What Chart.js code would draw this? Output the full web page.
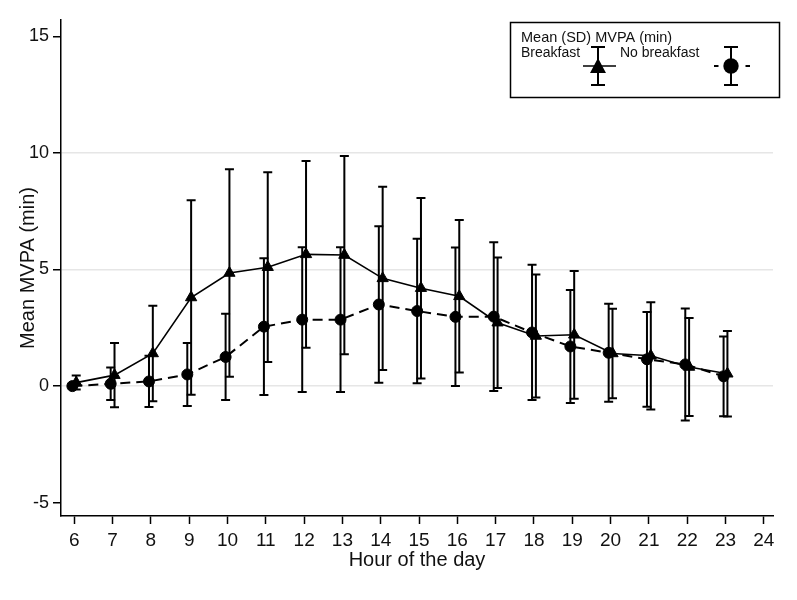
<!DOCTYPE html>
<html>
<head>
<meta charset="utf-8">
<script src="https://cdn.jsdelivr.net/npm/chart.js@4.4.1/dist/chart.umd.min.js"></script>
<style>
    html, body { margin: 0; padding: 0; background: #fff; }
    #wrap { width: 797px; height: 600px; }
</style>
</head>
<body>
<div id="wrap"><canvas id="mvpaChart" width="797" height="600"></canvas></div>
<script>
// Data
const hours = [6, 7, 8, 9, 10, 11, 12, 13, 14, 15, 16, 17, 18, 19, 20, 21, 22, 23];
const breakfastMean = [0.15, 0.47, 1.4, 3.8, 4.85, 5.1, 5.65, 5.62, 4.62, 4.2, 3.85, 2.72, 2.15, 2.2, 1.4, 1.3, 0.82, 0.53];
const breakfastSD = [0.3, 1.38, 2.05, 4.17, 4.45, 4.07, 4.0, 4.25, 3.93, 3.87, 3.27, 2.8, 2.64, 2.74, 1.92, 2.3, 2.1, 1.83];
const noBreakfastMean = [0, 0.1, 0.2, 0.5, 1.25, 2.55, 2.85, 2.85, 3.5, 3.22, 2.97, 2.98, 2.3, 1.7, 1.43, 1.15, 0.93, 0.42];
const noBreakfastSD = [0.1, 0.7, 1.1, 1.35, 1.85, 2.93, 3.1, 3.1, 3.36, 3.1, 2.97, 3.19, 2.9, 2.42, 2.1, 2.03, 2.4, 1.71];
const xTicks = [6, 7, 8, 9, 10, 11, 12, 13, 14, 15, 16, 17, 18, 19, 20, 21, 22, 23, 24];
const yTicks = [-5, 0, 5, 10, 15];
const gridValues = [0, 5, 10];

// small horizontal shift so the two series don't overlap
const shiftB = 0.05, shiftN = -0.05;

function toPoints(xs, ys, shift) {
    return xs.map((x, i) => ({ x: x + shift, y: ys[i], sd: null }));
}

const FONT = "'Liberation Sans', Arial, Helvetica, sans-serif";
Chart.defaults.font.family = FONT;
Chart.defaults.color = '#111';

// error bars, drawn through the chart scales
const errorBars = {
    id: 'errorBars',
    beforeDatasetsDraw(chart) {
        const ctx = chart.ctx;
        const xs = chart.scales.x, ys = chart.scales.y;
        const groups = [
            { mean: breakfastMean, sd: breakfastSD, shift: shiftB },
            { mean: noBreakfastMean, sd: noBreakfastSD, shift: shiftN }
        ];
        ctx.save();
        ctx.strokeStyle = '#000';
        ctx.lineWidth = 2;
        groups.forEach(g => {
            hours.forEach((h, i) => {
                const px = xs.getPixelForValue(h + g.shift);
                const top = ys.getPixelForValue(g.mean[i] + g.sd[i]);
                const bot = ys.getPixelForValue(g.mean[i] - g.sd[i]);
                ctx.beginPath();
                ctx.moveTo(px, top); ctx.lineTo(px, bot);
                ctx.moveTo(px - 4.5, top); ctx.lineTo(px + 4.5, top);
                ctx.moveTo(px - 4.5, bot); ctx.lineTo(px + 4.5, bot);
                ctx.stroke();
            });
        });
        ctx.restore();
    }
};

// legend box top right
const legendBox = {
    id: 'legendBox',
    afterDraw(chart) {
        const ctx = chart.ctx;
        ctx.save();
        ctx.fillStyle = '#fff';
        ctx.fillRect(510, 22, 269, 76);
        ctx.strokeStyle = '#000';
        ctx.lineWidth = 1.5;
        ctx.strokeRect(510.5, 22.5, 269, 75);

        ctx.fillStyle = '#111';
        ctx.textBaseline = 'alphabetic';
        ctx.font = "14.5px " + FONT;
        ctx.fillText('Mean (SD) MVPA (min)', 521, 42);
        ctx.font = "14px " + FONT;
        ctx.fillText('Breakfast', 521, 57);
        ctx.fillText('No breakfast', 620, 57);

        ctx.strokeStyle = '#000';
        ctx.lineWidth = 2;
        // breakfast symbol
        let cx = 598, cy = 66;
        ctx.beginPath();
        ctx.moveTo(cx, 47); ctx.lineTo(cx, 85);
        ctx.moveTo(cx - 7, 47); ctx.lineTo(cx + 7, 47);
        ctx.moveTo(cx - 7, 85); ctx.lineTo(cx + 7, 85);
        ctx.stroke();
        ctx.lineWidth = 1.5;
        ctx.beginPath();
        ctx.moveTo(583, cy); ctx.lineTo(616, cy);
        ctx.stroke();
        ctx.fillStyle = '#000';
        ctx.beginPath();
        ctx.moveTo(cx, cy - 8); ctx.lineTo(cx + 8, cy + 7); ctx.lineTo(cx - 8, cy + 7);
        ctx.closePath();
        ctx.fill();

        // no breakfast symbol
        cx = 731;
        ctx.lineWidth = 2;
        ctx.beginPath();
        ctx.moveTo(cx, 47); ctx.lineTo(cx, 85);
        ctx.moveTo(cx - 7, 47); ctx.lineTo(cx + 7, 47);
        ctx.moveTo(cx - 7, 85); ctx.lineTo(cx + 7, 85);
        ctx.moveTo(714, cy); ctx.lineTo(718.5, cy);
        ctx.moveTo(745.5, cy); ctx.lineTo(750, cy);
        ctx.stroke();
        ctx.beginPath();
        ctx.arc(cx, cy, 7.7, 0, Math.PI * 2);
        ctx.fill();
        ctx.restore();
    }
};

new Chart(document.getElementById('mvpaChart'), {
    type: 'line',
    data: {
        datasets: [
            {
                label: 'Breakfast',
                data: toPoints(hours, breakfastMean, shiftB),
                borderColor: '#000',
                borderWidth: 1.6,
                pointStyle: 'triangle',
                pointRadius: 6.5,
                pointBackgroundColor: '#000',
                pointBorderColor: '#000',
                pointBorderWidth: 1,
                tension: 0
            },
            {
                label: 'No breakfast',
                data: toPoints(hours, noBreakfastMean, shiftN),
                borderColor: '#000',
                borderWidth: 2,
                borderDash: [10, 6],
                pointStyle: 'circle',
                pointRadius: 5.5,
                pointBackgroundColor: '#000',
                pointBorderColor: '#000',
                pointBorderWidth: 1,
                tension: 0
            }
        ]
    },
    options: {
        responsive: false,
        animation: false,
        layout: { padding: { top: 20, right: 24, left: 0, bottom: 0 } },
        plugins: {
            legend: { display: false },
            tooltip: { enabled: false }
        },
        scales: {
            x: {
                type: 'linear',
                min: 5.653,
                max: 24.24,
                afterBuildTicks: scale => { scale.ticks = xTicks.map(v => ({ value: v })); },
                afterFit: scale => { scale.height = 84; },
                grid: {
                    color: 'rgba(0,0,0,0)',
                    drawTicks: true,
                    tickLength: 8,
                    tickColor: '#000',
                    tickWidth: 1.5
                },
                border: { display: true, color: '#000', width: 1.5 },
                ticks: {
                    font: { size: 19 },
                    color: '#111',
                    padding: 5,
                    maxRotation: 0,
                    autoSkip: false
                },
                title: {
                    display: true,
                    text: 'Hour of the day',
                    font: { size: 20 },
                    color: '#111',
                    padding: { top: 0, bottom: 28 }
                }
            },
            y: {
                min: -5.57,
                max: 15.7,
                afterBuildTicks: scale => { scale.ticks = yTicks.map(v => ({ value: v })); },
                afterFit: scale => { scale.width = 61; },
                grid: {
                    color: ctx => gridValues.includes(ctx.tick && ctx.tick.value) ? '#e6e6e6' : 'rgba(0,0,0,0)',
                    lineWidth: 1.5,
                    drawTicks: true,
                    tickLength: 8,
                    tickColor: '#000',
                    tickWidth: 1.5
                },
                border: { display: true, color: '#000', width: 1.5 },
                ticks: {
                    font: { size: 18 },
                    color: '#111',
                    padding: 4
                },
                title: {
                    display: true,
                    text: 'Mean MVPA (min)',
                    font: { size: 20 },
                    color: '#111',
                    padding: { top: 16, bottom: 0 }
                }
            }
        }
    },
    plugins: [errorBars, legendBox]
});
</script>
</body>
</html>
